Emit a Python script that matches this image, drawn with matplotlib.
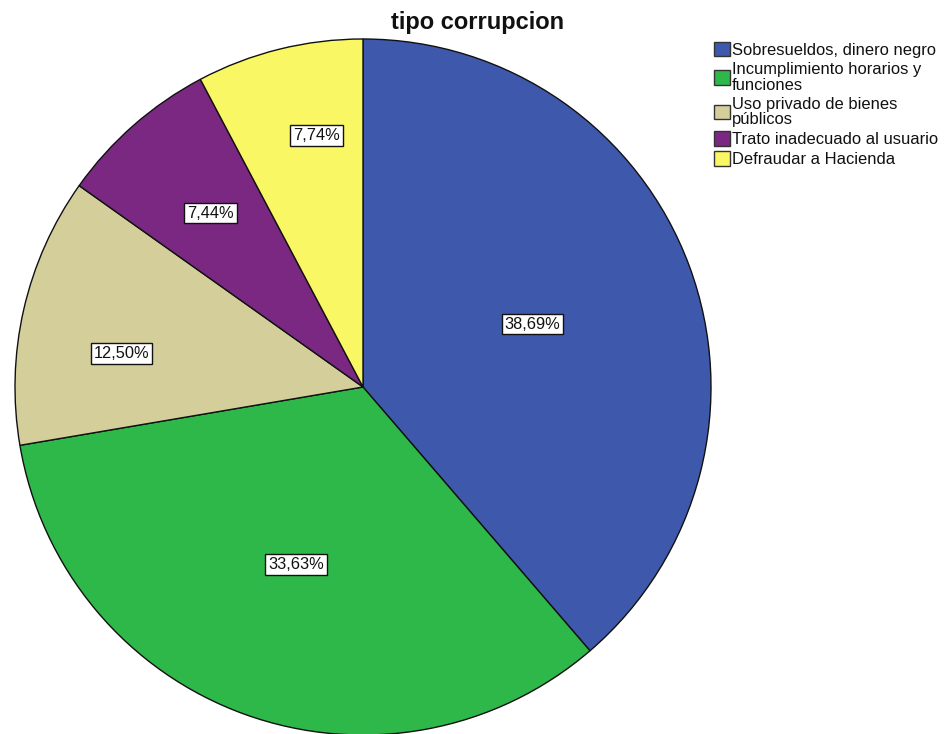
import numpy as np
import matplotlib
matplotlib.use("Agg")
import matplotlib.pyplot as plt

plt.rcParams['font.family'] = ['Liberation Sans', 'DejaVu Sans']

# Data
categories = [
    "Sobresueldos, dinero negro",
    "Incumplimiento horarios y\nfunciones",
    "Uso privado de bienes\npúblicos",
    "Trato inadecuado al usuario",
    "Defraudar a Hacienda",
]
percentages = [38.69, 33.63, 12.50, 7.44, 7.74]
colors = ["#3E58AC", "#2EB84A", "#D4CE9B", "#7A2882", "#FAF764"]
title = "tipo corrupcion"

W, H = 944, 734
fig = plt.figure(figsize=(W / 100, H / 100), dpi=100)

# Pie axes: centre at (363, 387) px, radius ~348 px
cx, cy, half = 363, 387, 350
ax = fig.add_axes([(cx - half) / W, (H - cy - half) / H, 2 * half / W, 2 * half / H])
R = 348 / half
wedges, _ = ax.pie(
    percentages, colors=colors, startangle=90, counterclock=False,
    radius=R, wedgeprops=dict(edgecolor="#111111", linewidth=1.0),
)
ax.set_xlim(-1, 1)
ax.set_ylim(-1, 1)
ax.set_aspect("equal")
ax.axis("off")

# Percentage labels: radial fraction and small angular nudge for each slice
label_radius = [0.52, 0.545, 0.70, 0.665, 0.735]
label_nudge = [0.0, -0.8, 5.0, 0.0, -3.4]
for w, p, rf, dn in zip(wedges, percentages, label_radius, label_nudge):
    ang = np.deg2rad((w.theta1 + w.theta2) / 2 + dn)
    x, y = rf * R * np.cos(ang), rf * R * np.sin(ang)
    txt = f"{p:.2f}%".replace(".", ",")
    ax.text(x, y, txt, ha="center", va="center", fontsize=11.8, color="#111111",
            bbox=dict(boxstyle="square,pad=0.18", facecolor="white",
                      edgecolor="#111111", linewidth=1.0))

fig.text(478 / W, 1 - 22 / H, title, ha="center", va="center",
         fontsize=17, fontweight="bold", color="#111111")

leg = fig.legend(
    wedges, categories, loc="upper left",
    bbox_to_anchor=(714 / W, 1 - 42 / H), frameon=False,
    fontsize=11.9, handlelength=0.95, handleheight=0.95, handletextpad=0.15,
    labelspacing=0.25, borderpad=0, borderaxespad=0,
)
for t in leg.get_texts():
    t.set_linespacing(1.05)
    t.set_color("#111111")
for h in leg.legend_handles:
    h.set_edgecolor("#333333")
    h.set_linewidth(1.0)

fig.savefig("out.png", dpi=100)
